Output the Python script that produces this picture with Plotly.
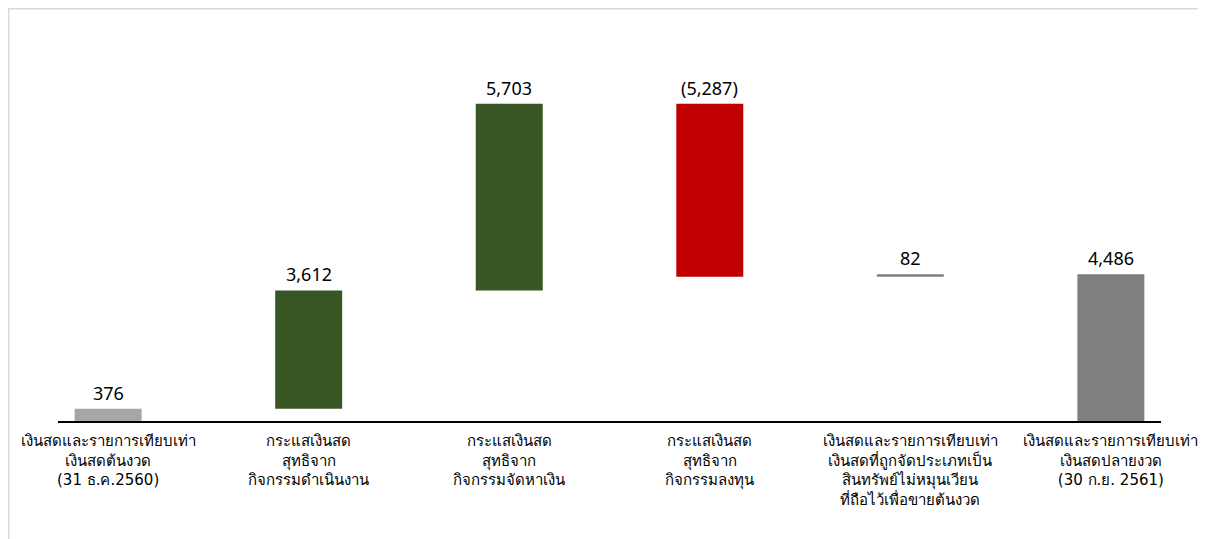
import plotly.graph_objects as go

categories = [
    "เงินสดและรายการเทียบเท่า<br>เงินสดต้นงวด<br>(31 ธ.ค.2560)",
    "กระแสเงินสด<br>สุทธิจาก<br>กิจกรรมดำเนินงาน",
    "กระแสเงินสด<br>สุทธิจาก<br>กิจกรรมจัดหาเงิน",
    "กระแสเงินสด<br>สุทธิจาก<br>กิจกรรมลงทุน",
    "เงินสดและรายการเทียบเท่า<br>เงินสดที่ถูกจัดประเภทเป็น<br>สินทรัพย์ไม่หมุนเวียน<br>ที่ถือไว้เพื่อขายต้นงวด",
    "เงินสดและรายการเทียบเท่า<br>เงินสดปลายงวด<br>(30 ก.ย. 2561)",
]
values = [376, 3612, 5703, -5287, 82, 4486]
measures = ["absolute", "relative", "relative", "relative", "relative", "total"]
value_labels = ["376", "3,612", "5,703", "(5,287)", "82", "4,486"]
colors = ["#A6A6A6", "#375623", "#375623", "#C00000", "#7F7F7F", "#7F7F7F"]

# compute waterfall bases
bases, heights, tops = [], [], []
running = 0
for v, m in zip(values, measures):
    if m in ("absolute", "total"):
        bases.append(0)
        heights.append(v)
        running = v
        tops.append(v)
    else:
        start = running
        running = running + v
        bases.append(min(start, running))
        heights.append(abs(v))
        tops.append(max(start, running))

xs = list(range(len(categories)))

fig = go.Figure()
fig.add_trace(go.Bar(
    x=xs, y=heights, base=bases,
    marker=dict(color=colors, line=dict(width=0)),
    width=0.334, hoverinfo="skip", showlegend=False,
))

for x, t, lab in zip(xs, tops, value_labels):
    fig.add_annotation(x=x, y=t, text=lab, showarrow=False,
                       yanchor="bottom", yshift=2,
                       font=dict(size=18, color="#000000",
                                 family="'Noto Sans', 'Open Sans', sans-serif"))

W, H = 1206, 539
L, R, T, B = 50, 53, 53, 126
pw, ph = W - L - R, H - T - B

def px_to_paper_x(px):
    return (px - L) / pw

def px_to_paper_y(py):
    return (H - B - py) / ph

fig.add_shape(type="rect", xref="paper", yref="paper",
              x0=px_to_paper_x(0.5), x1=px_to_paper_x(1193),
              y0=px_to_paper_y(560), y1=px_to_paper_y(0.5),
              line=dict(color="#D9D9D9", width=2), fillcolor="rgba(0,0,0,0)",
              layer="below")

fig.update_layout(
    width=W, height=H,
    margin=dict(l=L, r=R, t=T, b=B),
    paper_bgcolor="white", plot_bgcolor="white",
    font=dict(family="Tahoma, 'DejaVu Sans', sans-serif", color="#000000"),
    xaxis=dict(
        range=[-0.25, 5.25],
        tickmode="array", tickvals=xs, ticktext=categories,
        tickfont=dict(size=15, color="#000000"),
        showline=True, linecolor="#000000", linewidth=2,
        showgrid=False, zeroline=False, ticks="",
        ticklabelstandoff=5,
        fixedrange=True,
    ),
    yaxis=dict(
        range=[0, 11000], visible=False, showgrid=False, zeroline=False,
    ),
)

fig.write_html("out.html")
